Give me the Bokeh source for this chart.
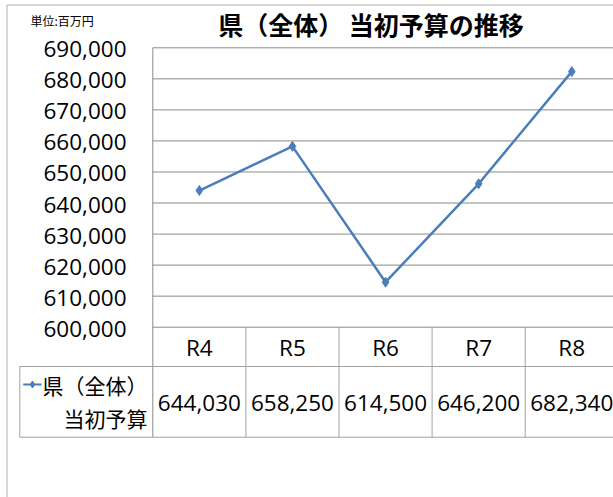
from bokeh.plotting import figure
from bokeh.models import Range1d
from bokeh.core.properties import value
from bokeh.embed import file_html
from bokeh.resources import INLINE

# ---------------- data ----------------
categories = ["R4", "R5", "R6", "R7", "R8"]
budget = [644030, 658250, 614500, 646200, 682340]
y_ticks = [600000, 610000, 620000, 630000, 640000, 650000, 660000, 670000, 680000, 690000]
y_tick_labels = ["600,000", "610,000", "620,000", "630,000", "640,000",
                 "650,000", "660,000", "670,000", "680,000", "690,000"]
title_text = "県（全体） 当初予算の推移"
unit_text = "単位:百万円"
series_label = ["県（全体）", "当初予算"]

# ---------------- layout (pixels in the picture) ----------------
W, H = 613, 497
OX, OY = 0, 0
PLOT_L = 152.3      # left edge of plot area
COL_W = 93.1        # width of one category column
TOP_PX = 47.3       # pixel of top tick
BOT_PX = 326.7      # pixel of bottom tick
ROW1_B = 366.0      # bottom of header row
ROW2_B = 436.7      # bottom of data row
LEG_L = 19.3        # left edge of legend cell

ymin, ymax = y_ticks[0], y_ticks[-1]
ppu = (BOT_PX - TOP_PX) / (ymax - ymin)


def X(px):
    return (px - PLOT_L) / COL_W - 0.5


def Y(py):
    return ymin + (BOT_PX - py) / ppu


p = figure(width=W, height=H,
           x_range=Range1d(X(OX), X(OX + W)),
           y_range=Range1d(Y(OY + H), Y(OY)),
           x_axis_location=None, y_axis_location=None,
           output_backend="svg", toolbar_location=None, min_border=0)
p.grid.visible = False
p.outline_line_color = None
p.background_fill_color = "white"
p.border_fill_color = "white"

GRID = "#8a8a8a"
TABLE = "#a3a3a3"
LINE = "#4a7ebb"
NUM_FONT = value("Open Sans")
JP_FONT = value("Noto Sans CJK JP")

x_idx = list(range(len(categories)))
x_left_edge = X(PLOT_L)
x_right = X(OX + W) + 1

# outer chart border
p.segment(x0=[X(6.5), X(6.5)], y0=[Y(4.5), Y(4.5)],
          x1=[x_right, X(6.5)], y1=[Y(4.5), Y(OY + H + 5)],
          line_color="#b0b0b0", line_width=1)

# horizontal gridlines
p.segment(x0=[x_left_edge] * len(y_ticks), y0=y_ticks,
          x1=[x_right] * len(y_ticks), y1=y_ticks,
          line_color=GRID, line_width=1)

# plot-area left border (continues through the table)
p.segment(x0=[x_left_edge], y0=[ymax], x1=[x_left_edge], y1=[Y(ROW2_B)],
          line_color=GRID, line_width=1)

# data table lines
bounds = [i + 0.5 for i in x_idx]
p.segment(x0=bounds, y0=[ymin] * len(bounds), x1=bounds, y1=[Y(ROW2_B)] * len(bounds),
          line_color=TABLE, line_width=1)
p.segment(x0=[X(LEG_L), X(LEG_L)], y0=[Y(ROW1_B), Y(ROW2_B)],
          x1=[x_right, x_right], y1=[Y(ROW1_B), Y(ROW2_B)],
          line_color=TABLE, line_width=1)
p.segment(x0=[X(LEG_L)], y0=[Y(ROW1_B)], x1=[X(LEG_L)], y1=[Y(ROW2_B)],
          line_color=TABLE, line_width=1)

# series
p.line(x_idx, budget, line_color=LINE, line_width=2.5)
p.scatter(x_idx, budget, marker="diamond", size=10, fill_color=LINE, line_color=LINE)

# y tick labels
p.text(x=[X(126)] * len(y_ticks), y=[t - 1.5 / ppu for t in y_ticks], text=y_tick_labels,
       text_align="right", text_baseline="middle", text_font=NUM_FONT,
       text_font_size="22.5px", text_color="#000000")

# table header (categories)
p.text(x=x_idx, y=[Y(347)] * len(x_idx), text=categories,
       text_align="center", text_baseline="middle", text_font=NUM_FONT,
       text_font_size="22.5px", text_color="#000000")

# table values
p.text(x=x_idx, y=[Y(402)] * len(x_idx), text=[f"{v:,}" for v in budget],
       text_align="center", text_baseline="middle", text_font=NUM_FONT,
       text_font_size="22.5px", text_color="#000000")

# legend key in table
p.line([X(22.7), X(41)], [Y(384), Y(384)], line_color=LINE, line_width=2)
p.scatter([X(32)], [Y(384)], marker="diamond", size=7, fill_color=LINE, line_color=LINE)
p.text(x=[X(147), X(147)], y=[Y(384), Y(417.5)], text=series_label,
       text_align="right", text_baseline="middle", text_font=JP_FONT,
       text_font_size="21px", text_color="#000000")

# title and unit
p.text(x=[X(370.5)], y=[Y(23)], text=[title_text], text_align="center",
       text_baseline="middle", text_font=JP_FONT, text_font_size="25px",
       text_font_style="bold", text_color="#000000")
p.text(x=[X(30)], y=[Y(19.5)], text=[unit_text], text_align="left",
       text_baseline="middle", text_font=JP_FONT, text_font_size="12px",
       text_color="#000000")

open("out.html", "w").write(file_html(p, INLINE))
